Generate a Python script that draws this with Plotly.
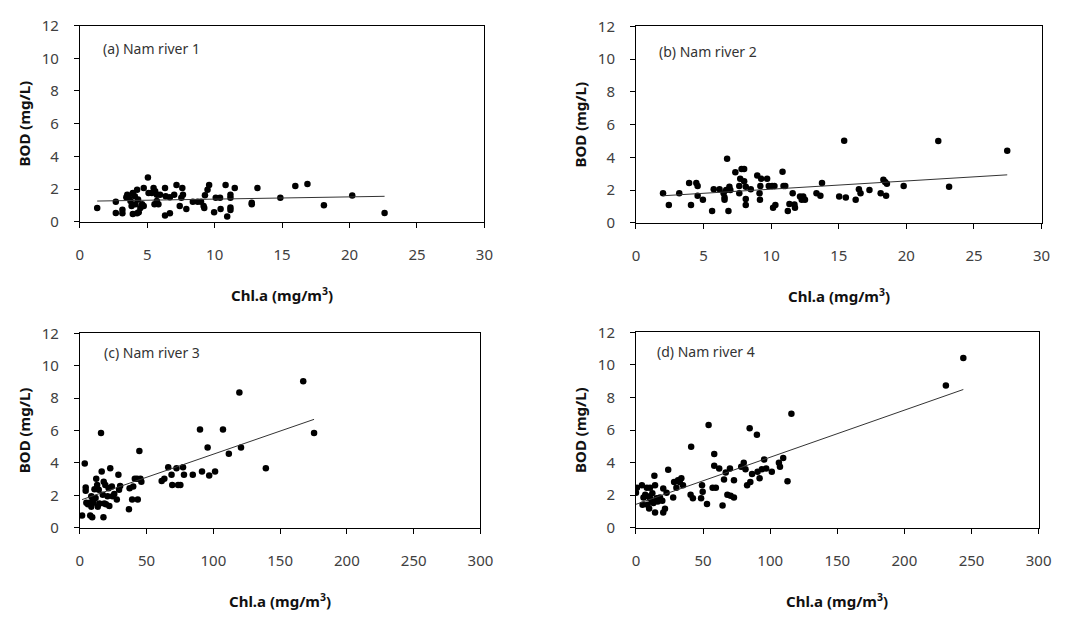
import plotly.graph_objects as go

# Chl.a (mg/m3) and BOD (mg/L) observations for each station
chla_1 = [1.29, 2.67, 2.67, 3.16, 3.16, 3.45, 3.52, 3.64, 3.76, 3.84, 3.93, 3.93, 4.08, 4.13,
          4.25, 4.32, 4.25, 4.37, 4.49, 4.62, 4.74, 4.74, 5.05, 5.10, 5.34, 5.47, 5.54, 5.59,
          5.71, 5.71, 5.83, 5.95, 6.32, 6.32, 6.37, 6.68, 6.68, 7.00, 7.17, 7.41, 7.53, 7.60,
          7.65, 7.90, 8.38, 8.74, 8.99, 9.18, 9.23, 9.28, 9.47, 9.59, 9.96, 10.08, 10.40,
          10.44, 10.81, 10.93, 11.17, 11.17, 11.17, 11.17, 11.49, 12.75, 12.75, 13.17, 14.87,
          15.98, 16.88, 18.10, 20.20, 22.60]
bod_1 = [0.85, 1.24, 0.55, 0.75, 0.53, 1.51, 1.67, 1.48, 1.28, 0.98, 0.49, 1.77, 1.57, 1.08,
         1.97, 1.38, 0.53, 0.59, 0.85, 1.08, 2.07, 0.98, 2.71, 1.77, 1.77, 2.07, 1.08, 1.87,
         1.67, 1.28, 1.08, 1.67, 2.07, 0.39, 1.57, 0.53, 1.51, 1.67, 2.26, 0.98, 1.48, 2.07,
         1.67, 0.79, 1.24, 1.24, 1.24, 0.98, 0.85, 1.63, 1.97, 2.26, 0.59, 1.48, 1.48,
         0.79, 2.26, 0.33, 1.48, 1.67, 0.89, 0.73, 2.07, 1.08, 1.18, 2.07, 1.48,
         2.20, 2.32, 1.02, 1.61, 0.55]

chla_2 = [2.00, 2.43, 3.20, 3.93, 4.07, 4.46, 4.56, 4.56, 4.95, 5.63, 5.75, 6.18, 6.48, 6.55,
          6.55, 6.67, 6.74, 6.84, 6.91, 6.98, 7.35, 7.64, 7.64, 7.71, 7.81, 8.00, 8.00, 8.12,
          8.12, 8.12, 8.49, 8.97, 9.14, 9.17, 9.20, 9.26, 9.70, 9.82, 10.07, 10.14, 10.24,
          10.31, 10.84, 10.91, 11.04, 11.23, 11.35, 11.59, 11.72, 11.76, 12.13, 12.26, 12.37,
          12.50, 13.35, 13.64, 13.76, 15.03, 15.40, 15.52, 16.25, 16.49, 16.61, 17.27, 18.10,
          18.30, 18.43, 18.50, 18.56, 19.80, 22.36, 23.16, 27.46]
bod_2 = [1.81, 1.10, 1.81, 2.44, 1.10, 2.44, 2.25, 1.66, 1.42, 0.73, 2.05, 2.05, 1.81, 1.42,
         1.56, 2.01, 3.92, 0.73, 2.21, 2.01, 3.09, 1.81, 2.25, 2.70, 3.29, 3.29, 2.54, 2.21,
         1.46, 1.10, 2.05, 2.90, 1.81, 1.42, 2.25, 2.70, 2.70, 2.25, 2.25, 0.93, 2.25,
         1.10, 3.13, 2.25, 2.25, 0.73, 1.16, 1.81, 1.12, 0.93, 1.62, 1.42, 1.62,
         1.42, 1.81, 1.66, 2.44, 1.62, 5.02, 1.56, 1.42, 2.05, 1.81, 2.01, 1.81,
         2.64, 2.50, 1.66, 2.40, 2.25, 5.00, 2.21, 4.41]

chla_3 = [1.7, 3.7, 4.4, 4.4, 4.9, 6.1, 7.4, 7.8, 8.6, 8.6, 9.3, 9.8, 10.3, 11.0, 11.8, 12.3,
          13.0, 13.5, 14.2, 14.7, 15.9, 16.4, 17.2, 17.7, 17.9, 18.4, 19.1, 19.6, 20.8, 21.6,
          22.1, 22.8, 24.0, 24.5, 25.8, 27.7, 28.9, 29.4, 30.2, 36.8, 37.3, 39.2, 40.0, 41.2,
          42.9, 43.4, 44.6, 45.4, 46.1, 61.3, 63.3, 66.2, 68.7, 69.2, 72.4, 73.6, 75.3, 77.3,
          78.0, 84.6, 90.0, 91.5, 95.7, 96.9, 101.3, 107.2, 111.6, 119.5, 120.7, 139.3,
          167.3, 175.4]
bod_3 = [0.75, 3.97, 2.48, 2.28, 1.55, 1.45, 1.55, 0.75, 1.94, 1.29, 0.65, 1.75, 1.55, 2.38,
         1.84, 3.03, 2.64, 1.29, 2.34, 1.49, 5.85, 3.47, 2.04, 0.65, 2.84, 1.49, 2.64, 1.45,
         1.94, 2.44, 1.35, 3.67, 2.54, 1.94, 2.08, 1.75, 3.27, 2.34, 2.58, 1.15, 2.44, 1.75,
         2.54, 3.03, 3.03, 1.75, 4.73, 3.03, 2.84, 2.88, 3.03, 3.73, 3.27, 2.64, 3.67, 2.64,
         2.64, 3.73, 3.27, 3.27, 6.07, 3.47, 4.96, 3.23, 3.47, 6.07, 4.56, 8.35, 4.96, 3.67,
         9.04, 5.85]

chla_4 = [0.0, 0.7, 4.4, 4.9, 5.6, 6.9, 8.1, 8.6, 9.3, 9.8, 10.5, 10.5, 11.8, 12.2, 13.0,
          13.7, 14.2, 14.2, 15.4, 16.2, 17.9, 19.6, 20.3, 20.3, 21.6, 22.8, 24.0, 27.7, 28.4,
          30.1, 31.3, 32.6, 33.8, 35.0, 40.7, 41.1, 42.4, 48.5, 49.2, 49.7, 52.9, 54.1, 57.1,
          58.3, 58.3, 59.5, 62.0, 64.5, 65.6, 66.9, 68.1, 70.0, 70.5, 73.0, 73.0, 78.4, 80.3,
          81.6, 82.8, 84.7, 85.2, 86.5, 90.1, 90.6, 92.1, 93.8, 95.5, 97.0, 101.2, 106.5,
          107.3, 109.7, 112.9, 115.8, 230.9, 243.9]
bod_4 = [2.15, 2.45, 2.61, 1.42, 1.86, 2.02, 2.45, 1.42, 1.92, 1.19, 1.82, 2.45, 1.62, 2.12,
         1.52, 3.20, 2.61, 0.93, 1.82, 1.62, 1.86, 1.66, 2.41, 0.93, 1.17, 2.15, 3.56, 1.86,
         2.81, 2.45, 2.91, 2.81, 3.04, 2.61, 2.02, 4.98, 1.82, 1.82, 2.61, 2.21, 1.46, 6.31,
         2.45, 4.53, 3.80, 2.45, 3.64, 1.36, 2.97, 3.40, 2.02, 3.64, 1.96, 2.91, 1.86, 3.74,
         3.99, 3.60, 2.61, 6.11, 2.81, 3.30, 5.71, 3.44, 3.04, 3.60, 4.19, 3.64, 3.44, 3.99,
         3.74, 4.29, 2.85, 7.00, 8.74, 10.42]

# Linear trend lines: slope and intercept per station
trend_slope = [0.0136, 0.0502, 0.0285, 0.0289]
trend_intercept = [1.26, 1.56, 1.69, 1.44]

panel_labels = ["(a) Nam river 1", "(b) Nam river 2", "(c) Nam river 3", "(d) Nam river 4"]
x_max = [30, 30, 300, 300]
x_dtick = [5, 5, 50, 50]
y_ticks = [0, 2, 4, 6, 8, 10, 12]

W, H = 1090, 620
# plot boxes in pixels: left, right, top, bottom
boxes = [(77, 488, 15, 218), (642, 1054, 16, 219), (77, 484, 333, 534), (642, 1051, 332, 534)]
label_pos = [(0.0535, 0.882), (0.053, 0.872), (0.0565, 0.90), (0.046, 0.90)]

series = [(chla_1, bod_1), (chla_2, bod_2), (chla_3, bod_3), (chla_4, bod_4)]

FONT = "Noto Sans"
fig = go.Figure()

for i, (xs, ys) in enumerate(series):
    n = "" if i == 0 else str(i + 1)
    xa, ya = "x" + n, "y" + n
    fig.add_trace(go.Scatter(
        x=xs, y=ys, mode="markers", xaxis=xa, yaxis=ya,
        marker=dict(color="black", size=6.5, line=dict(width=0)),
        showlegend=False, hoverinfo="x+y"))
    x0, x1 = min(xs), max(xs)
    fig.add_trace(go.Scatter(
        x=[x0, x1],
        y=[trend_intercept[i] + trend_slope[i] * x0, trend_intercept[i] + trend_slope[i] * x1],
        mode="lines", xaxis=xa, yaxis=ya,
        line=dict(color="#333333", width=1), showlegend=False, hoverinfo="skip"))

    l, r, t, b = boxes[i]
    axis_common = dict(showline=True, linecolor="black", linewidth=1, mirror=True,
                       ticks="outside", ticklen=5, tickcolor="black", showgrid=False,
                       zeroline=False, tickfont=dict(family=FONT, size=15, color="#404040"))
    fig.layout["xaxis" + n] = dict(
        domain=[l / W, r / W], anchor=ya, range=[0, x_max[i]], dtick=x_dtick[i],
        tick0=0, ticklabelstandoff=14, **axis_common)
    fig.layout["yaxis" + n] = dict(
        domain=[1 - b / H, 1 - t / H], anchor=xa, range=[0, 12], tickvals=y_ticks,
        ticklabelstandoff=12, **axis_common)

    ph = b - t
    # x-axis title
    fig.add_annotation(
        xref=xa + " domain", yref=ya + " domain", x=0.5, y=-(75 / ph),
        text="<b>Chl.a (mg/m<sup>3</sup>)</b>", showarrow=False,
        xanchor="center", yanchor="middle",
        font=dict(family=FONT, size=15, color="#111111"))
    # y-axis title
    fig.add_annotation(
        xref=xa + " domain", yref=ya + " domain", x=-(57 / (r - l)), y=0.5,
        text="<b>BOD (mg/L)</b>", textangle=-90, showarrow=False,
        xanchor="center", yanchor="middle",
        font=dict(family=FONT, size=15, color="#111111"))
    # panel label
    lx, ly = label_pos[i]
    fig.add_annotation(
        xref=xa + " domain", yref=ya + " domain", x=lx, y=ly,
        text=panel_labels[i], showarrow=False, xanchor="left", yanchor="middle",
        font=dict(family=FONT, size=14, color="#333333"))

fig.update_layout(
    width=W, height=H, margin=dict(l=0, r=0, t=0, b=0),
    paper_bgcolor="white", plot_bgcolor="white")

fig.write_html("out.html")
